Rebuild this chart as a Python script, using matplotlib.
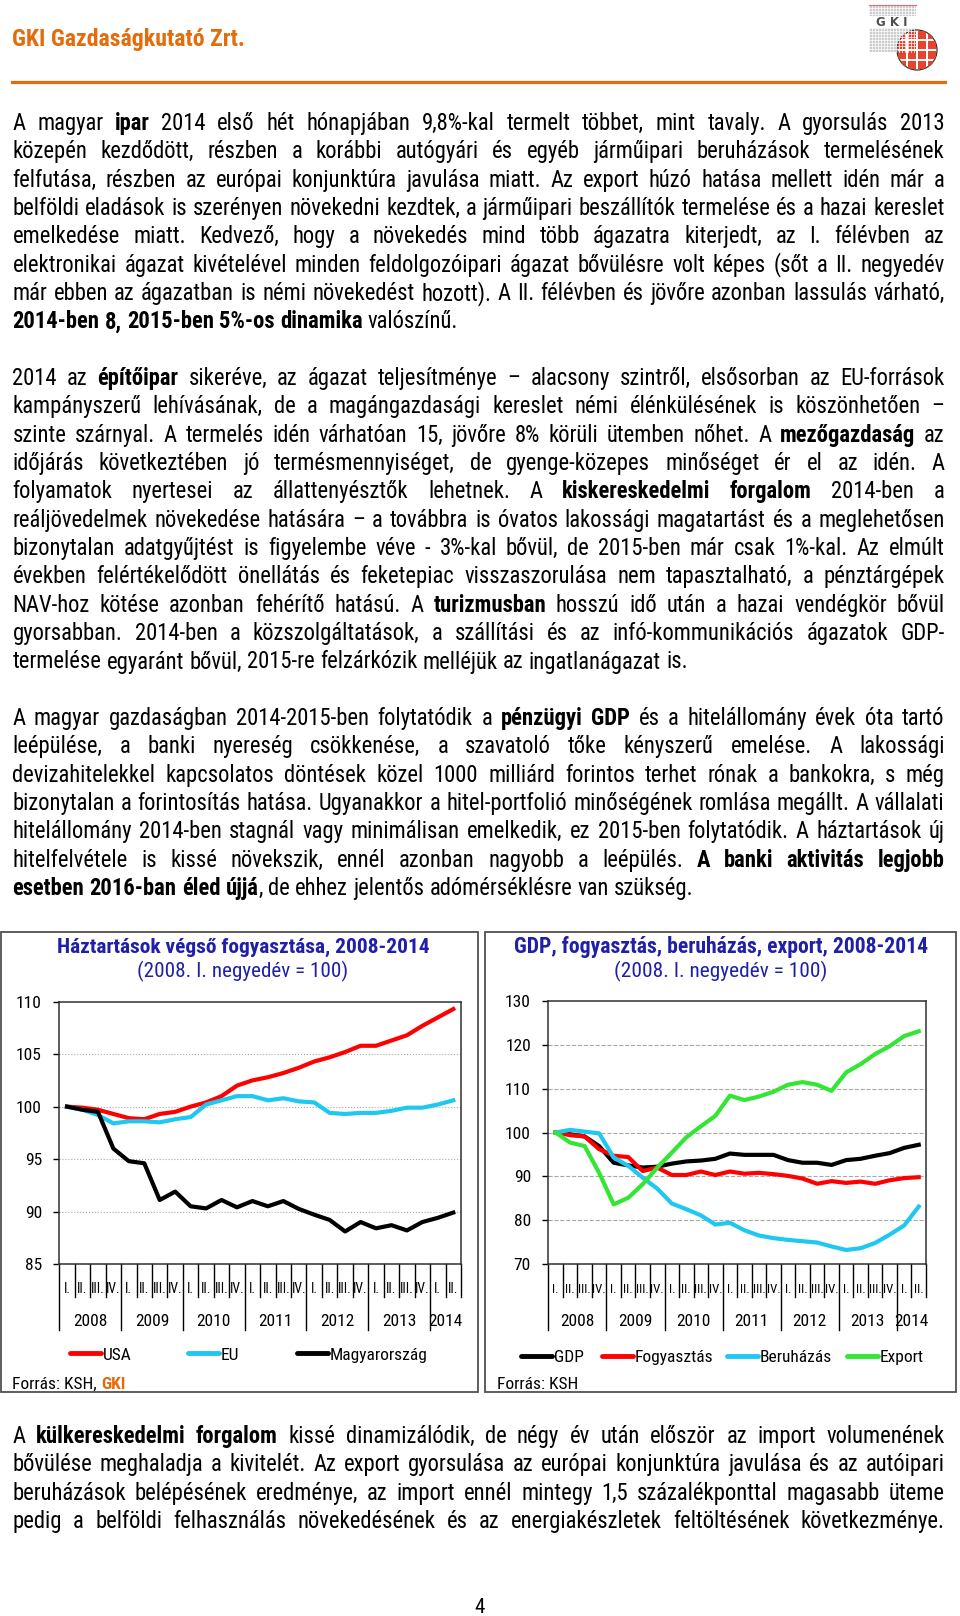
import os
import matplotlib
matplotlib.use('Agg')
import matplotlib.pyplot as plt
import matplotlib.transforms as mtransforms
from matplotlib import font_manager
from matplotlib.font_manager import FontProperties
from matplotlib.lines import Line2D
from matplotlib.patches import Rectangle, Circle

ORANGE = '#E46C0A'
BLUE = '#1F1FA8'

# ---- data ----
years = ['2008', '2009', '2010', '2011', '2012', '2013', '2014']
quarter_labels = ['I.', 'II.', 'III.', 'IV.']
n_q = 26  # 2008 Q1 .. 2014 Q2

usa = [100, 99.9, 99.7, 99.3, 98.9, 98.8, 99.3, 99.5, 100.0, 100.4, 101.0, 102.0, 102.5,
       102.8, 103.2, 103.7, 104.3, 104.7, 105.2, 105.8, 105.8, 106.3, 106.8, 107.7, 108.5, 109.3]
eu = [100, 99.7, 99.2, 98.4, 98.6, 98.6, 98.5, 98.8, 99.0, 100.2, 100.6, 101.0, 101.0,
      100.6, 100.8, 100.5, 100.4, 99.4, 99.3, 99.4, 99.4, 99.6, 99.9, 99.9, 100.2, 100.6]
hun = [100, 99.7, 99.5, 96.0, 94.8, 94.6, 91.1, 91.9, 90.5, 90.3, 91.1, 90.4, 91.0,
       90.5, 91.0, 90.25, 89.7, 89.2, 88.1, 89.0, 88.4, 88.7, 88.2, 89.0, 89.4, 89.9]

gdp = [100, 99.6, 99.1, 96.9, 93.1, 92.5, 92.0, 92.2, 92.9, 93.4, 93.6, 94.0, 95.2,
       94.9, 94.9, 94.9, 93.7, 93.1, 93.1, 92.6, 93.7, 94.0, 94.7, 95.3, 96.5, 97.2]
fogy = [100, 99.4, 99.1, 96.2, 94.7, 94.4, 91.2, 92.0, 90.3, 90.3, 91.1, 90.3, 91.1,
        90.6, 90.8, 90.5, 90.1, 89.5, 88.3, 88.9, 88.5, 88.8, 88.3, 89.1, 89.6, 89.8]
beruh = [100, 100.6, 100.2, 99.8, 94.3, 92.4, 89.7, 87.2, 83.8, 82.5, 81.1, 79.0, 79.4,
         77.7, 76.5, 75.9, 75.5, 75.2, 74.9, 74.0, 73.2, 73.6, 74.8, 76.7, 78.8, 83.1]
export = [100, 97.7, 96.9, 90.8, 83.6, 85.1, 88.2, 92.0, 95.4, 98.9, 101.4, 103.8, 108.4,
          107.4, 108.2, 109.3, 110.9, 111.5, 110.9, 109.5, 113.7, 115.6, 117.9, 119.7, 122.0, 123.1]

PARA1 = [
    "A magyar **ipar** 2014 első hét hónapjában 9,8%-kal termelt többet, mint tavaly. A gyorsulás 2013",
    "közepén kezdődött, részben a korábbi autógyári és egyéb járműipari beruházások termelésének",
    "felfutása, részben az európai konjunktúra javulása miatt. Az export húzó hatása mellett idén már a",
    "belföldi eladások is szerényen növekedni kezdtek, a járműipari beszállítók termelése és a hazai kereslet",
    "emelkedése miatt. Kedvező, hogy a növekedés mind több ágazatra kiterjedt, az I. félévben az",
    "elektronikai ágazat kivételével minden feldolgozóipari ágazat bővülésre volt képes (sőt a II. negyedév",
    "már ebben az ágazatban is némi növekedést hozott). A II. félévben és jövőre azonban lassulás várható,",
    "**2014-ben 8, 2015-ben 5%-os dinamika** valószínű.",
]
PARA2 = [
    "2014 az **építőipar** sikeréve, az ágazat teljesítménye – alacsony szintről, elsősorban az EU-források",
    "kampányszerű lehívásának, de a magángazdasági kereslet némi élénkülésének is köszönhetően –",
    "szinte szárnyal. A termelés idén várhatóan 15, jövőre 8% körüli ütemben nőhet. A **mezőgazdaság** az",
    "időjárás következtében jó termésmennyiséget, de gyenge-közepes minőséget ér el az idén. A",
    "folyamatok nyertesei az állattenyésztők lehetnek. A **kiskereskedelmi forgalom** 2014-ben a",
    "reáljövedelmek növekedése hatására – a továbbra is óvatos lakossági magatartást és a meglehetősen",
    "bizonytalan adatgyűjtést is figyelembe véve - 3%-kal bővül, de 2015-ben már csak 1%-kal. Az elmúlt",
    "években felértékelődött önellátás és feketepiac visszaszorulása nem tapasztalható, a pénztárgépek",
    "NAV-hoz kötése azonban fehérítő hatású. A **turizmusban** hosszú idő után a hazai vendégkör bővül",
    "gyorsabban. 2014-ben a közszolgáltatások, a szállítási és az infó-kommunikációs ágazatok GDP-",
    "termelése egyaránt bővül, 2015-re felzárkózik melléjük az ingatlanágazat is.",
]
PARA3 = [
    "A magyar gazdaságban 2014-2015-ben folytatódik a **pénzügyi GDP** és a hitelállomány évek óta tartó",
    "leépülése, a banki nyereség csökkenése, a szavatoló tőke kényszerű emelése. A lakossági",
    "devizahitelekkel kapcsolatos döntések közel 1000 milliárd forintos terhet rónak a bankokra, s még",
    "bizonytalan a forintosítás hatása. Ugyanakkor a hitel-portfolió minőségének romlása megállt. A vállalati",
    "hitelállomány 2014-ben stagnál vagy minimálisan emelkedik, ez 2015-ben folytatódik. A háztartások új",
    "hitelfelvétele is kissé növekszik, ennél azonban nagyobb a leépülés. **A banki aktivitás legjobb**",
    "**esetben 2016-ban éled újjá**, de ehhez jelentős adómérséklésre van szükség.",
]
PARA4 = [
    "A **külkereskedelmi forgalom** kissé dinamizálódik, de négy év után először az import volumenének",
    "bővülése meghaladja a kivitelét. Az export gyorsulása az európai konjunktúra javulása és az autóipari",
    "beruházások belépésének eredménye, az import ennél mintegy 1,5 százalékponttal magasabb üteme",
    "pedig a belföldi felhasználás növekedésének és az energiakészletek feltöltésének következménye.",
]


# ---- narrow font lookup (Arial Narrow look-alike) ----
def find_font(prefixes):
    for f in font_manager.fontManager.ttflist:
        base = os.path.basename(f.fname)
        if any(base.startswith(p) for p in prefixes):
            return f.fname
    return None


REG, BOLD = None, None
for reg_keys, bold_keys in [
        (['LiberationSansNarrow-Regular'], ['LiberationSansNarrow-Bold.']),
        (['ArialNarrow.', 'ARIALN.', 'arialn.'], ['ArialNarrow-Bold.', 'ARIALNB.', 'arialnb.']),
        (['RobotoCondensed-Regular'], ['RobotoCondensed-Bold.']),
        (['NotoSans-Condensed.', 'NotoSans-CondensedRegular'], ['NotoSans-CondensedBold.']),
        (['DejaVuSansCondensed.'], ['DejaVuSansCondensed-Bold.'])]:
    r = find_font(reg_keys)
    if r:
        REG, BOLD = r, find_font(bold_keys)
        break


def fp(size, bold=False):
    if bold:
        if BOLD:
            return FontProperties(fname=BOLD, size=size)
        if REG:
            return FontProperties(family=FontProperties(fname=REG).get_name(), weight='bold', size=size)
        return FontProperties(family='Liberation Sans', weight='bold', size=size)
    if REG:
        return FontProperties(fname=REG, size=size)
    return FontProperties(family='Liberation Sans', size=size)


# ---- page helpers (pixel coords, origin top-left) ----
W, H = 960, 1616
fig = plt.figure(figsize=(W / 100, H / 100), dpi=100)
renderer = fig.canvas.get_renderer()


def fx(x):
    return x / W


def fy(y):
    return 1 - y / H


def put(x, y, s, size, bold=False, color='black', ha='left', va='baseline'):
    return fig.text(fx(x), fy(y), s, fontproperties=fp(size, bold), color=color, ha=ha, va=va)


def width(s, size, bold=False):
    t = put(0, 0, s, size, bold)
    w = t.get_window_extent(renderer).width
    t.remove()
    return w


def parse(line):
    words = [[]]
    for i, chunk in enumerate(line.split('**')):
        bold = i % 2 == 1
        for j, p in enumerate(chunk.split(' ')):
            if j > 0:
                words.append([])
            if p:
                words[-1].append((p, bold))
    return [w for w in words if w]


def word_w(word, size):
    return sum(width(t, size, b) for t, b in word)


# ---- header ----
hdr = "GKI Gazdaságkutató Zrt."
put(12.4, 46, hdr, 14 * 233 / width(hdr, 14, True), True, ORANGE)
fig.add_artist(Line2D([fx(12.4), fx(945)], [fy(82), fy(82)], color=ORANGE, lw=2.3))

# logo
lg = fig.add_axes([fx(866), fy(74), 78 / W, 72 / H])
lg.set_xlim(866, 944)
lg.set_ylim(74, 2)
lg.axis('off')
for (y0, y1) in [(5, 16), (28, 52)]:
    lg.add_patch(Rectangle((869, y0), 47, y1 - y0, fc='#cdcdcd', ec='none'))
    for yy in range(y0, y1, 3):
        lg.plot([869, 916], [yy, yy], color='white', lw=0.5)
    for xx in range(869, 917, 3):
        lg.plot([xx, xx], [y0, y1], color='white', lw=0.5)
lg.plot([869, 916], [5, 5], color='#e07070', lw=0.8)
lg.text(892, 26.5, 'G K I', fontsize=8.5, fontweight='bold', color='#505050', ha='center',
        va='baseline', family='DejaVu Sans')
circ = Circle((917, 50), 20, fc='white', ec='#333333', lw=0.9)
lg.add_patch(circ)
for cx in range(898, 940, 10):
    for cy in range(31, 72, 10):
        sq = Rectangle((cx, cy), 8, 8, fc='#E8432D', ec='none')
        lg.add_patch(sq)
        sq.set_clip_path(circ)

# ---- body text ----
LEFT, RIGHT, LH = 12.4, 944.6, 28.35
paras = [(PARA1, 130, False), (PARA2, 385, False), (PARA3, 725, False), (PARA4, 1443, True)]

base = 14
sw_base = width('x x', base) - width('xx', base)


def fit_size(group):
    ratios = []
    for lines, y0, jl in group:
        for k, line in enumerate(lines):
            if k == len(lines) - 1 and not jl:
                continue
            ws = parse(line)
            nat = sum(word_w(w, base) for w in ws) + sw_base * (len(ws) - 1)
            ratios.append((RIGHT - LEFT) / nat)
    return base * min(ratios) * 0.995


size_a = min(fit_size(paras[:2]), 17)
size_b = min(fit_size(paras[2:]), size_a)

for pi, (lines, y0, jl) in enumerate(paras):
    size = size_a if pi < 2 else size_b
    sw = width('x x', size) - width('xx', size)
    for k, line in enumerate(lines):
        y = y0 + k * LH
        ws = parse(line)
        widths = [word_w(w, size) for w in ws]
        last = k == len(lines) - 1 and not jl
        gap = sw if last else (RIGHT - LEFT - sum(widths)) / (len(ws) - 1)
        x = LEFT
        for w, wd in zip(ws, widths):
            xx = x
            for t, b in w:
                put(xx, y, t, size, b)
                xx += width(t, size, b)
            x += wd + gap

put(480, 1613, '4', 15, ha='center')


# ---- charts ----
def make_axes(x0, x1, y0, y1):
    return fig.add_axes([fx(x0), fy(y1), (x1 - x0) / W, (y1 - y0) / H])


def style(ax, lo, hi, step, grid_ls):
    ax.set_xlim(-0.5, n_q - 0.5)
    ax.set_ylim(lo, hi)
    ticks = list(range(lo, hi + 1, step))
    ax.set_yticks(ticks)
    ax.set_xticks([])
    for t in ticks[1:-1]:
        ax.axhline(t, color='#a8a8a8', lw=0.8, ls=grid_ls, zorder=0)
    ax.tick_params(axis='y', length=4, width=1, pad=8.5, direction='out')
    for lab in ax.get_yticklabels():
        lab.set_fontproperties(fp(12.5))
    for s in ax.spines.values():
        s.set_color('#303030')
        s.set_linewidth(1.1)


def cat_axis(ax):
    ah = ax.get_position().height * H
    cell = ax.get_position().width * W / n_q
    qsize = min(12, 12 * (cell - 0.8) / max(width(q, 12) for q in quarter_labels))
    trans = mtransforms.blended_transform_factory(ax.transData, ax.transAxes)
    for k in range(n_q + 1):
        depth = 66 if k % 4 == 0 else 33
        ax.plot([k - 0.5, k - 0.5], [0, -depth / ah], transform=trans, color='black',
                lw=1, clip_on=False)
    for i in range(n_q):
        t = ax.text(i, -29 / ah, quarter_labels[i % 4], transform=trans, ha='center',
                    va='baseline', fontproperties=fp(qsize))
        rect = Rectangle((i - 0.5, -33 / ah), 1, 33 / ah, transform=trans)
        t.set_clip_path(rect)
        t.set_clip_on(True)
    for j, yr in enumerate(years):
        s, e = 4 * j, min(4 * j + 4, n_q)
        ax.text((s + e - 1) / 2, -62 / ah, yr, transform=trans, ha='center',
                va='baseline', fontproperties=fp(12.5))


def legend_item(x0, y_line, y_base, color, label):
    fig.add_artist(Line2D([fx(x0), fx(x0 + 31)], [fy(y_line)] * 2, color=color, lw=3.5,
                          solid_capstyle='round'))
    put(x0 + 33, y_base, label, 12.5)


qx = list(range(n_q))

# left chart
fig.add_artist(Rectangle((fx(1), fy(1392)), 477 / W, 460 / H, fill=False, ec='#505050',
                         lw=1.3, transform=fig.transFigure))
t1 = "Háztartások végső fogyasztása, 2008-2014"
put(243, 952.5, t1, 12 * 373 / width(t1, 12, True), True, BLUE, ha='center')
s1 = "(2008. I. negyedév = 100)"
put(243, 977.5, s1, 12 * 210 / width(s1, 12), False, BLUE, ha='center')

axL = make_axes(59.3, 461, 1001.7, 1264)
style(axL, 85, 110, 5, ':')
axL.plot(qx, usa, color='#FF0000', lw=3)
axL.plot(qx, eu, color='#1EC8F0', lw=3)
axL.plot(qx, hun, color='black', lw=3)
cat_axis(axL)
legend_item(70, 1353, 1360, '#FF0000', 'USA')
legend_item(188, 1353, 1360, '#1EC8F0', 'EU')
legend_item(297, 1353, 1360, 'black', 'Magyarország')
src = "Forrás: KSH, "
put(12.4, 1389, src, 12.5)
put(12.4 + width(src, 12.5), 1389, "GKI", 12.5, True, ORANGE)

# right chart
fig.add_artist(Rectangle((fx(485), fy(1392)), 471 / W, 460 / H, fill=False, ec='#505050',
                         lw=1.3, transform=fig.transFigure))
t2 = "GDP, fogyasztás, beruházás, export, 2008-2014"
put(720.7, 952.5, t2, 12 * 415 / width(t2, 12, True), True, BLUE, ha='center')
put(721, 977.5, s1, 12 * 212 / width(s1, 12), False, BLUE, ha='center')

axR = make_axes(548.3, 926, 1001, 1264)
style(axR, 70, 130, 10, '--')
axR.plot(qx, gdp, color='black', lw=3)
axR.plot(qx, fogy, color='#FF0000', lw=3)
axR.plot(qx, beruh, color='#1EC8F0', lw=3)
axR.plot(qx, export, color='#33E633', lw=3)
cat_axis(axR)
legend_item(520.7, 1355.5, 1362, 'black', 'GDP')
legend_item(602, 1355.5, 1362, '#FF0000', 'Fogyasztás')
legend_item(727, 1355.5, 1362, '#1EC8F0', 'Beruházás')
legend_item(847, 1355.5, 1362, '#33E633', 'Export')
put(497, 1389, "Forrás: KSH", 12.5)

fig.savefig('out.png', dpi=100)
